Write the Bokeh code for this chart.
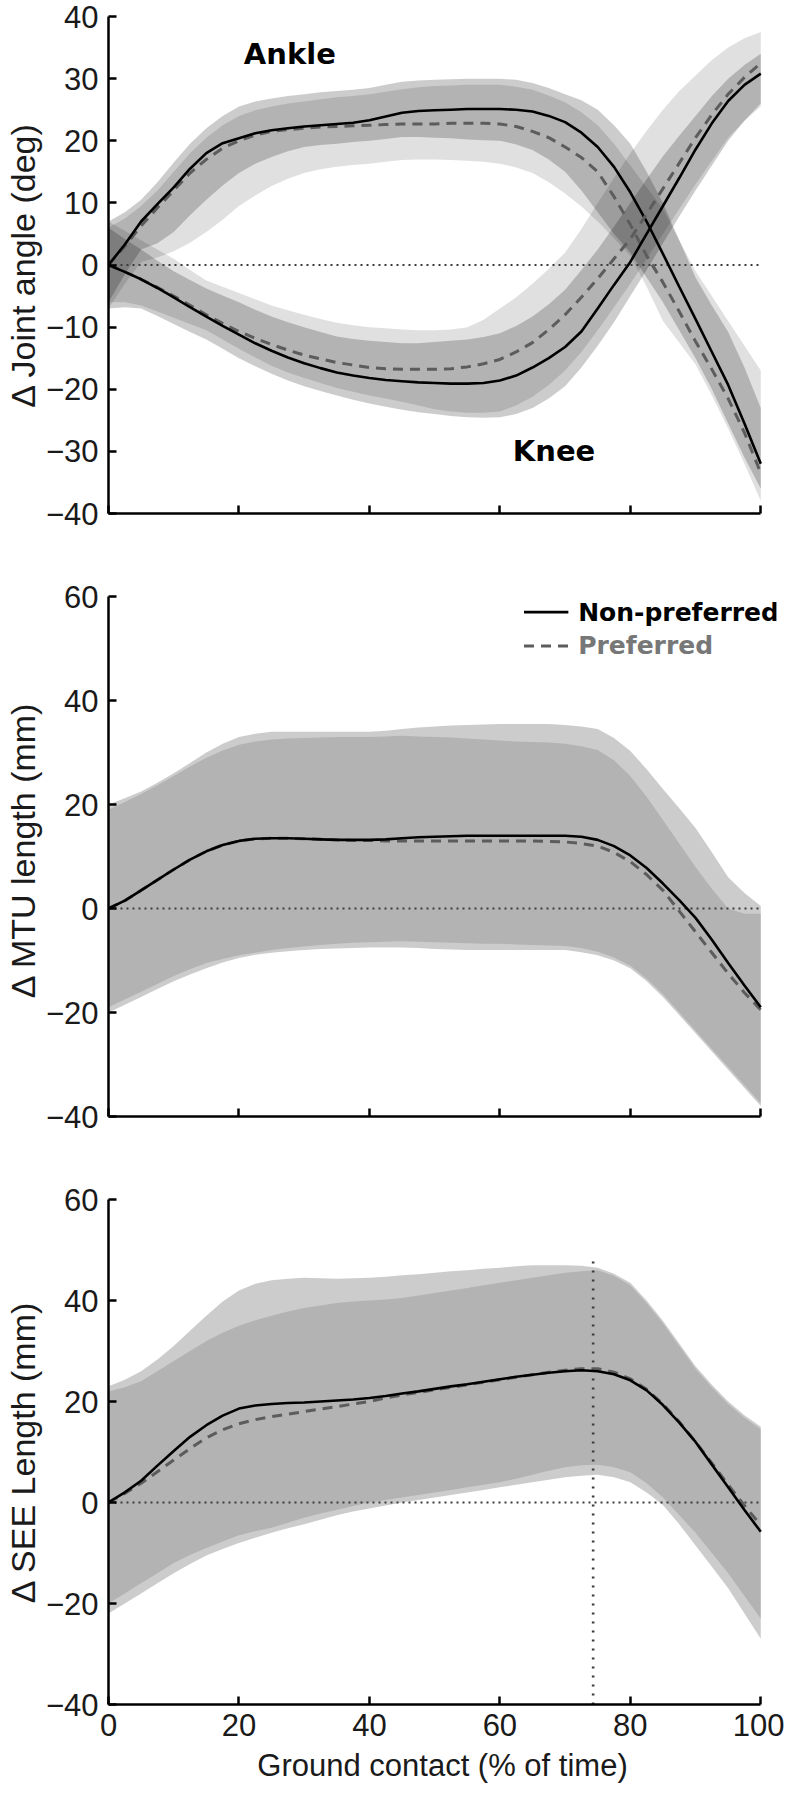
from bokeh.plotting import figure
from bokeh.models import Range1d, FixedTicker, Label, CustomJSTickFormatter
from bokeh.layouts import column
from bokeh.embed import file_html
from bokeh.resources import INLINE

# ---------------- data ----------------
x = [i * 2.5 for i in range(41)]          # % of ground contact, every 2.5 %
x_ticks = [0, 20, 40, 60, 80, 100]
x_label = "Ground contact (% of time)"
zero_x = [0, 100]
zero_y = [0, 0]

# Panel 1: joint angles (deg)
angle_ticks = [-40, -30, -20, -10, 0, 10, 20, 30, 40]
ankle_np_mean = [0, 3.3, 7, 9.8, 12.5, 15.5, 18, 19.6, 20.4, 21.2, 21.7, 22.0, 22.3, 22.5, 22.7, 22.9, 23.3, 23.9, 24.5, 24.8, 24.9,
                 25.0, 25.1, 25.1, 25.1, 25.0, 24.7, 24.0, 23, 21.3, 19, 15.8, 11.7, 7, 1.8, -3.5, -8.7, -14, -19.3, -25.5, -32]
ankle_p_mean = [0, 3, 6.3, 9.2, 12, 14.8, 17, 18.8, 20, 20.9, 21.5, 21.8, 22, 22.2, 22.3, 22.4, 22.5, 22.6, 22.7, 22.7, 22.7,
                22.8, 22.8, 22.8, 22.7, 22.3, 21.5, 20.5, 19, 17.3, 15, 11, 6.5, 1.5, -2.8, -7.5, -12.3, -16.8, -21.5, -27, -33.5]
ankle_np_hi = [7, 8.5, 10.5, 13.3, 16.5, 19.5, 22, 24, 25.5, 26.3, 26.8, 27.2, 27.5, 27.8, 28, 28.2, 28.5, 29, 29.5, 29.7, 29.8,
               29.9, 30, 30, 30, 29.8, 29.3, 28.5, 27.5, 26.5, 25, 22.5, 19.5, 15, 10, 4, -2, -6.5, -10.8, -16.5, -23]
ankle_np_lo = [-6, -1.5, 2.5, 3.5, 5.3, 8, 10.5, 12.8, 14.8, 16.3, 17.4, 18.3, 19, 19.3, 19.5, 19.8, 20, 20.3, 20.6, 20.6, 20.5,
               20.4, 20.2, 20.1, 20, 19.4, 18.5, 17, 15, 12, 8.5, 5, 2, -2, -6, -10.5, -15, -20, -25.5, -31, -36]
ankle_p_hi = [6, 7.5, 9.5, 12, 15, 18, 20.5, 22.5, 24, 24.9, 25.5, 26, 26.3, 26.7, 27, 27.2, 27.5, 27.9, 28.3, 28.6, 28.8,
              28.9, 29, 29, 29, 28.7, 28.2, 27.3, 26.2, 24.6, 22.5, 19.5, 16, 12.5, 9, 4, -1, -5, -9, -13, -17]
ankle_p_lo = [-7, -3, 0.5, 1.2, 2.2, 3.6, 5.3, 7.3, 9.5, 11.2, 12.7, 13.9, 14.8, 15.4, 15.8, 16.1, 16.3, 16.6, 16.9, 17, 17,
              16.9, 16.8, 16.6, 16.3, 15.7, 14.8, 13.3, 11.5, 9.4, 7, 4.3, 1.5, -3.5, -9, -12.5, -16, -21, -26.3, -32, -38]

knee_np_mean = [0, -1.1, -2.3, -3.7, -5.2, -6.8, -8.3, -9.8, -11.2, -12.6, -13.8, -14.9, -15.8, -16.6, -17.3, -17.8, -18.2, -18.5, -18.7, -18.9, -19,
                -19.1, -19.1, -19, -18.6, -17.8, -16.5, -15, -13.2, -10.7, -7, -3.2, 0.5, 5, 9.5, 14, 18.6, 22.8, 26.4, 29, 30.8]
knee_p_mean = [0, -1.1, -2.3, -3.6, -5, -6.5, -8, -9.4, -10.7, -11.8, -12.8, -13.7, -14.5, -15.1, -15.7, -16.1, -16.5, -16.7, -16.8, -16.8, -16.8,
               -16.7, -16.4, -15.9, -15.2, -14, -12.5, -10.4, -8, -5.2, -2.2, 1, 4.2, 8.2, 12.3, 16.4, 20.5, 24.2, 27.5, 30.2, 32.5]
knee_np_hi = [6, 4.2, 2.5, 0.7, -1, -2.4, -3.8, -4.9, -6, -7.2, -8.3, -9.2, -10, -10.8, -11.5, -11.9, -12.2, -12.4, -12.6, -12.6, -12.4,
              -12.2, -12, -11.6, -11, -9.8, -8.3, -6.3, -4, -0.8, 2.5, 6.2, 10, 13.8, 17.5, 20.8, 24, 27.2, 30, 32.2, 34]
knee_np_lo = [-7, -6.8, -7, -8.2, -9.5, -10.8, -12, -13.5, -15, -16.3, -17.5, -18.6, -19.5, -20.3, -21, -21.7, -22.3, -22.8, -23.3, -23.7, -24,
              -24.3, -24.5, -24.6, -24.5, -24, -23, -21.5, -19.5, -16.5, -13, -9.2, -5, -0.8, 3.5, 7.8, 12, 16, 20, 23.2, 26]
knee_p_hi = [7, 5.5, 4, 2.5, 1, -0.8, -2.5, -3.5, -4.5, -5.5, -6.5, -7.3, -8, -8.7, -9.3, -9.7, -10, -10.2, -10.4, -10.5, -10.5,
             -10.4, -10, -8.8, -7, -5.2, -3, -0.6, 2, 5.8, 10, 14, 18, 21.6, 25, 28, 30.5, 33, 35, 36.5, 37.5]
knee_p_lo = [-6, -6, -6.5, -7.5, -8.5, -9.5, -10.5, -12, -13.5, -14.9, -16.2, -17.3, -18.2, -19, -19.8, -20.4, -21, -21.5, -22, -22.6, -23.2,
             -23.6, -23.8, -23.8, -23.6, -22.6, -21.2, -19.3, -17, -14, -10.5, -6.8, -3, 1, 5, 9, 13, 16.8, 20.5, 23.2, 25.5]

# Panel 2: MTU length (mm)
len_ticks = [-40, -20, 0, 20, 40, 60]
mtu_np_mean = [0, 1.5, 3.5, 5.5, 7.5, 9.4, 11, 12.2, 13, 13.4, 13.5, 13.5, 13.4, 13.3, 13.2, 13.2, 13.2, 13.3, 13.5, 13.7, 13.8,
               13.9, 14, 14, 14, 14, 14, 14, 14, 13.8, 13.2, 12, 10.2, 7.8, 4.8, 1.6, -1.8, -6, -10.5, -14.8, -19]
mtu_p_mean = [0, 1.5, 3.5, 5.5, 7.5, 9.4, 11, 12.2, 13, 13.4, 13.5, 13.5, 13.4, 13.3, 13.2, 13.1, 13.1, 13, 13, 13, 13,
              13, 13, 13, 13, 13, 13, 12.9, 12.8, 12.5, 12, 10.8, 9, 6.5, 3.5, -0.5, -4.5, -8.5, -12.5, -16.2, -19.5]
mtu_np_hi = [20, 21.2, 22.5, 24.2, 26, 28, 30, 31.7, 33, 33.6, 34, 34, 34, 34, 34, 34, 34, 34.2, 34.5, 34.8, 35,
             35.2, 35.3, 35.4, 35.5, 35.5, 35.5, 35.5, 35.3, 35, 34.5, 32.8, 30.3, 26.8, 23, 19.3, 15.5, 10.8, 6, 3, 0.5]
mtu_np_lo = [-20, -18.5, -17, -15.5, -14, -12.7, -11.5, -10.4, -9.5, -8.9, -8.5, -8.2, -8, -7.8, -7.7, -7.6, -7.5, -7.5, -7.5, -7.6, -7.8,
             -7.9, -8, -8, -8, -8, -8, -8, -8, -8.4, -9, -10, -11.5, -14, -17, -20.5, -24, -27.5, -31, -34.5, -38]
mtu_p_hi = [19, 20.5, 22, 23.7, 25.5, 27.3, 29, 30.4, 31.5, 32.1, 32.5, 32.7, 32.8, 32.9, 33, 33, 33, 33.1, 33.2, 33.1, 33,
            32.9, 32.7, 32.5, 32.3, 32.1, 32, 31.9, 31.7, 31.2, 30.5, 28.5, 25.5, 21.5, 17, 12.5, 8, 3.8, 0, -1, -1]
mtu_p_lo = [-19, -17.5, -16, -14.5, -13, -11.7, -10.5, -9.7, -9, -8.5, -8, -7.6, -7.3, -7, -6.8, -6.6, -6.5, -6.4, -6.3, -6.4, -6.5,
            -6.6, -6.7, -6.8, -6.8, -6.9, -7, -7.1, -7.2, -7.6, -8.3, -9.4, -11, -13.5, -16.5, -20, -23.5, -27, -30.5, -34, -37.5]

# Panel 3: SEE length (mm)
see_np_mean = [0, 2, 4.3, 7.3, 10.2, 13, 15.3, 17.2, 18.6, 19.2, 19.5, 19.7, 19.8, 20, 20.2, 20.4, 20.7, 21.1, 21.6, 22, 22.5,
               23, 23.4, 23.9, 24.4, 24.9, 25.3, 25.7, 26, 26.2, 26, 25.4, 24.2, 22.2, 19.3, 15.8, 12, 7.5, 3, -1.5, -5.8]
see_p_mean = [0, 1.8, 3.8, 6.1, 8.4, 10.7, 12.8, 14.4, 15.6, 16.4, 17, 17.5, 18, 18.5, 19, 19.5, 20, 20.7, 21.3, 21.8, 22.3,
              22.8, 23.3, 23.8, 24.3, 24.8, 25.3, 25.8, 26.2, 26.5, 26.5, 25.8, 24.5, 22.4, 19.5, 16, 12, 7.8, 3.5, -0.6, -4.5]
see_np_hi = [23, 24.3, 26, 28.3, 31, 34, 37, 39.8, 42, 43.3, 44, 44.3, 44.5, 44.4, 44.3, 44.4, 44.5, 44.7, 45, 45.2, 45.5,
             45.8, 46, 46.3, 46.5, 46.8, 47, 47, 47, 46.9, 46.5, 45.3, 43.5, 40, 36, 31.5, 27, 23.3, 20, 17.3, 15]
see_np_lo = [-22, -20, -18, -16, -14, -12.2, -10.5, -9.2, -8, -7, -6, -5.1, -4.3, -3.4, -2.5, -1.8, -1.2, -0.6, 0, 0.5, 1,
             1.5, 2, 2.5, 3, 3.5, 4, 4.5, 5, 5.3, 5.5, 5, 4, 2, -0.5, -4.3, -8.5, -12.7, -17, -22, -27]
see_p_hi = [22, 22.8, 24, 26, 28, 30, 32, 33.6, 35, 36.1, 37, 37.8, 38.5, 39, 39.5, 39.8, 40, 40.2, 40.5, 41, 41.5,
            42, 42.5, 43, 43.5, 44, 44.5, 45, 45.5, 45.8, 46, 44.9, 43, 39.5, 35.5, 31, 26.5, 22.8, 19.5, 16.8, 14.5]
see_p_lo = [-20, -18, -16, -14, -12, -10.4, -9, -7.7, -6.5, -5.7, -5, -4, -3, -2.2, -1.5, -0.7, 0, 0.5, 1, 1.5, 2,
            2.5, 3, 3.5, 4, 4.7, 5.5, 6.3, 7, 7.4, 7.5, 7, 6, 3.8, 1, -2.5, -6, -10, -14, -18.5, -23]
see_marker_x = [74.3, 74.3]
see_marker_y = [-40, 49]

series_names = ["Non-preferred", "Preferred"]

# ---------------- layout / style ----------------
W = 784
LEFT = 96
UNIT_W = 664                       # px for the 0..100 span
FRAME_W = 680                      # frame a bit wider than 0..100 so the key text is not clipped
X_MAX = 100.0 * FRAME_W / UNIT_W
TICK_FONT = "Liberation Sans"
TXT = "#1a1a1a"
NP_ALPHA = 0.2
P_ALPHA = 0.12
DASH_COLOR = "#5c5c5c"
DOT_COLOR = "#3c3c3c"
PREF_TEXT_COLOR = "#777777"
# key placement in panel-2 data units (layout, not data)
LEG_SWATCH_X = [63.7, 70.5]
LEG_ROW_Y = [57.0, 50.5]
LEG_TEXT_X = 72.0


def make_fig(frame_h, top, bottom, yr, ybounds, yticks, ylabel, xlabels):
    p = figure(width=W, height=top + frame_h + bottom, output_backend="svg",
               toolbar_location=None, x_range=Range1d(0, X_MAX), y_range=Range1d(*yr),
               min_border_left=LEFT, min_border_right=W - LEFT - FRAME_W,
               min_border_top=top, min_border_bottom=bottom)
    p.outline_line_color = None
    p.xgrid.visible = False
    p.ygrid.visible = False
    for ax in (p.xaxis[0], p.yaxis[0]):
        ax.axis_line_width = 2.5
        ax.axis_line_color = "black"
        ax.major_tick_in = 8
        ax.major_tick_out = 0
        ax.major_tick_line_width = 2.5
        ax.major_tick_line_color = "black"
        ax.minor_tick_line_color = None
        ax.major_label_text_font = TICK_FONT
        ax.major_label_text_font_size = "31px"
        ax.major_label_text_color = TXT
        ax.axis_label_text_font = TICK_FONT
        ax.axis_label_text_font_style = "normal"
        ax.axis_label_text_color = TXT
    p.xaxis.bounds = (0, 100)
    p.yaxis.bounds = ybounds
    p.xaxis.ticker = FixedTicker(ticks=x_ticks, minor_ticks=[])
    p.yaxis.ticker = FixedTicker(ticks=yticks, minor_ticks=[])
    p.yaxis.major_label_standoff = 10
    p.yaxis.axis_label = ylabel
    p.yaxis.axis_label_text_font_size = "34px"
    p.yaxis.axis_label_standoff = 1
    if xlabels:
        p.xaxis.major_label_standoff = 9
        p.xaxis.axis_label = x_label
        p.xaxis.axis_label_text_font_size = "31px"
        p.xaxis.axis_label_standoff = 9
    else:
        p.xaxis.formatter = CustomJSTickFormatter(code="return ''")
        p.xaxis.major_label_standoff = 0
    return p


def bands(p, np_lo, np_hi, p_lo, p_hi):
    p.varea(x=x, y1=np_lo, y2=np_hi, fill_color="black", fill_alpha=NP_ALPHA)
    p.varea(x=x, y1=p_lo, y2=p_hi, fill_color="black", fill_alpha=P_ALPHA)


def zero_line(p):
    p.line(x=zero_x, y=zero_y, line_color=DOT_COLOR, line_dash="2 4", line_width=2.2)


NP_STYLE = dict(line_color="black", line_width=2.6)
P_STYLE = dict(line_color=DASH_COLOR, line_width=3, line_dash="10 7")


def mean_lines(p, np_mean, p_mean):
    p.line(x=x, y=p_mean, **P_STYLE)
    p.line(x=x, y=np_mean, **NP_STYLE)


# ---------------- panel 1 ----------------
p1 = make_fig(497, 16, 40, (-40, 40), (-40, 40), angle_ticks, "\u0394 Joint angle (deg)", False)
bands(p1, ankle_np_lo, ankle_np_hi, ankle_p_lo, ankle_p_hi)
bands(p1, knee_np_lo, knee_np_hi, knee_p_lo, knee_p_hi)
zero_line(p1)
mean_lines(p1, ankle_np_mean, ankle_p_mean)
mean_lines(p1, knee_np_mean, knee_p_mean)
for txt, tx, ty in (("Ankle", 27.8, 33.9), ("Knee", 68.3, -30.0)):
    p1.add_layout(Label(x=tx, y=ty, text=txt, text_font="DejaVu Sans",
                        text_font_style="bold", text_font_size="29px",
                        text_align="center", text_baseline="middle", text_color="black"))

# ---------------- panel 2 (y frame raised a little so the key text fits) ----------------
p2 = make_fig(533, 30, 40, (-40, 62.5), (-40, 60), len_ticks, "\u0394 MTU length (mm)", False)
bands(p2, mtu_np_lo, mtu_np_hi, mtu_p_lo, mtu_p_hi)
zero_line(p2)
mean_lines(p2, mtu_np_mean, mtu_p_mean)
for name, style, col, ry in ((series_names[0], NP_STYLE, "black", LEG_ROW_Y[0]),
                             (series_names[1], P_STYLE, PREF_TEXT_COLOR, LEG_ROW_Y[1])):
    p2.line(x=LEG_SWATCH_X, y=[ry, ry], **style)
    p2.add_layout(Label(x=LEG_TEXT_X, y=ry, text=name, text_font="DejaVu Sans",
                        text_font_style="bold", text_font_size="25px",
                        text_align="left", text_baseline="middle", text_color=col))

# ---------------- panel 3 ----------------
p3 = make_fig(505, 43, 91, (-40, 60), (-40, 60), len_ticks, "\u0394 SEE Length (mm)", True)
bands(p3, see_np_lo, see_np_hi, see_p_lo, see_p_hi)
zero_line(p3)
p3.line(x=see_marker_x, y=see_marker_y, line_color=DOT_COLOR, line_dash="2 7", line_width=2.6)
mean_lines(p3, see_np_mean, see_p_mean)

layout = column(p1, p2, p3, spacing=0)
open("out.html", "w").write(file_html(layout, INLINE))
